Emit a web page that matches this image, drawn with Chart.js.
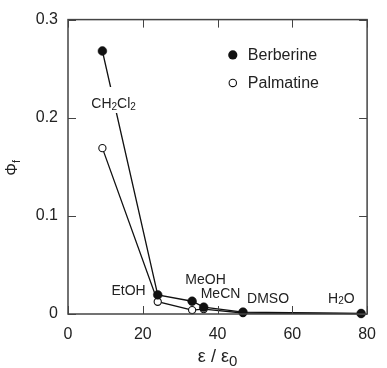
<!DOCTYPE html>
<html>
<head>
<meta charset="utf-8">
<script src="https://cdn.jsdelivr.net/npm/chart.js@4.4.1/dist/chart.umd.min.js"></script>
<style>
  html, body { margin: 0; padding: 0; background: #fff; }
  #wrap { width: 387px; height: 368px; }
</style>
</head>
<body>
<div id="wrap"><canvas id="myChart" width="387" height="368"></canvas></div>
<script>
// solvents and their dielectric constants (x axis)
const solvents = ["CH2Cl2", "EtOH", "MeOH", "MeCN", "DMSO", "H2O"];
const epsilon = [9.2, 24.0, 33.2, 36.3, 46.8, 78.4];
// fluorescence quantum yields
const berberine = [0.268, 0.0195, 0.013, 0.007, 0.002, 0.0005];
const palmatine = [0.169, 0.0125, 0.004, 0.005, 0.001, 0.0004];
const xTicks = [0, 20, 40, 60, 80];
const yTicks = [0, 0.1, 0.2, 0.3];

// where the solvent names sit, in data units
const labelX = [12.2, 16.2, 36.8, 40.8, 53.5, 73.1];
const labelY = [0.214, 0.0235, 0.035, 0.0205, 0.0156, 0.0156];

const FAMILY = '"Liberation Sans", Arial, sans-serif';
const INK = '#222';

function toPts(ys) {
  return epsilon.map((x, i) => ({x: x, y: ys[i]}));
}

// split "CH2Cl2" into normal / subscript parts
function parts(txt) {
  const out = [];
  for (const ch of txt) {
    const sub = /[0-9]/.test(ch) && out.length > 0;
    const last = out[out.length - 1];
    if (last && last.sub === sub) last.t += ch; else out.push({t: ch, sub: sub});
  }
  return out;
}
function partsWidth(ctx, ps, big, small) {
  let w = 0;
  ps.forEach(p => { ctx.font = (p.sub ? small : big) + 'px ' + FAMILY; w += ctx.measureText(p.t).width; });
  return w;
}
function drawParts(ctx, ps, x, y, big, small, drop) {
  ps.forEach(p => {
    ctx.font = (p.sub ? small : big) + 'px ' + FAMILY;
    ctx.fillText(p.t, x, p.sub ? y + drop : y);
    x += ctx.measureText(p.t).width;
  });
}

const decor = {
  id: 'decor',
  afterDraw(chart) {
    const ctx = chart.ctx;
    const a = chart.chartArea;
    const xs = chart.scales.x, ys = chart.scales.y;
    ctx.save();
    // frame
    ctx.strokeStyle = '#444';
    ctx.lineWidth = 1.5;
    ctx.strokeRect(a.left, a.top, a.right - a.left, a.bottom - a.top);
    // inward ticks on all sides
    ctx.lineWidth = 1;
    const tl = 8;
    ctx.beginPath();
    xTicks.forEach(v => {
      const px = Math.round(xs.getPixelForValue(v)) + 0.5;
      ctx.moveTo(px, a.bottom); ctx.lineTo(px, a.bottom - tl);
      ctx.moveTo(px, a.top); ctx.lineTo(px, a.top + tl);
    });
    yTicks.forEach(v => {
      const py = Math.round(ys.getPixelForValue(v)) + 0.5;
      ctx.moveTo(a.left, py); ctx.lineTo(a.left + tl, py);
      ctx.moveTo(a.right, py); ctx.lineTo(a.right - tl, py);
    });
    ctx.stroke();

    // solvent labels (white box so the line breaks around CH2Cl2)
    ctx.textBaseline = 'middle';
    ctx.textAlign = 'left';
    solvents.forEach((s, i) => {
      const ps = parts(s);
      const w = partsWidth(ctx, ps, 14, 10);
      const cx = xs.getPixelForValue(labelX[i]);
      const cy = ys.getPixelForValue(labelY[i]);
      if (i === 0) {
        ctx.fillStyle = '#fff';
        ctx.fillRect(cx - w / 2 - 1, cy - 17, w + 2, 26);
      }
      ctx.fillStyle = INK;
      drawParts(ctx, ps, cx - w / 2, cy, 14, 10, 3);
    });

    // legend
    const lx = a.left + (a.right - a.left) * 0.551;
    const ly = a.top + (a.bottom - a.top) * 0.12;
    const names = ['Berberine', 'Palmatine'];
    names.forEach((n, i) => {
      const y = ly + i * 28;
      ctx.beginPath();
      if (i === 0) {
        ctx.arc(lx, y, 4.6, 0, Math.PI * 2);
        ctx.fillStyle = '#111'; ctx.fill();
      } else {
        ctx.arc(lx, y, 3.7, 0, Math.PI * 2);
        ctx.fillStyle = '#fff'; ctx.fill();
        ctx.strokeStyle = '#111'; ctx.lineWidth = 1.1; ctx.stroke();
      }
      ctx.fillStyle = INK;
      ctx.font = '16px ' + FAMILY;
      ctx.fillText(n, lx + 15, y + 1);
    });

    // x axis title: ε / ε0
    ctx.textBaseline = 'alphabetic';
    const xt = [{t: 'ε / ε', sub: false}, {t: '0', sub: true}];
    const xw = partsWidth(ctx, xt, 18, 15);
    drawParts(ctx, xt, (a.left + a.right) / 2 - xw / 2, 362, 18, 15, 4);

    // y axis title: Φf (rotated)
    ctx.translate(17, (a.top + a.bottom) / 2 + 1);
    ctx.rotate(-Math.PI / 2);
    const yt = [{t: 'Φ', sub: false}, {t: 'f', sub: true}];
    const yw = partsWidth(ctx, yt, 16, 11);
    drawParts(ctx, yt, -yw / 2, 0, 16, 11, 3);
    ctx.restore();
  }
};

const ctx = document.getElementById("myChart").getContext("2d");
const chart = new Chart(ctx, {
  type: "scatter",
  data: {
    datasets: [{
      label: 'Berberine',
      data: toPts(berberine),
      showLine: true,
      borderColor: '#111',
      borderWidth: 1.3,
      backgroundColor: '#111',
      pointBackgroundColor: '#111',
      pointBorderColor: '#111',
      pointRadius: 4.4,
      pointBorderWidth: 0.5,
      clip: false
    }, {
      label: 'Palmatine',
      data: toPts(palmatine),
      showLine: true,
      borderColor: '#111',
      borderWidth: 1.3,
      pointBackgroundColor: '#fff',
      pointBorderColor: '#111',
      pointRadius: 3.6,
      pointBorderWidth: 1.1,
      clip: false
    }]
  },
  options: {
    responsive: false,
    animation: false,
    layout: { padding: { top: 7, right: 11, left: 0, bottom: 0 } },
    plugins: { legend: { display: false }, tooltip: { enabled: false } },
    scales: {
      x: {
        type: 'linear', min: 0, max: 80,
        afterFit(s) { s.height = 54; },
        afterBuildTicks(s) { s.ticks = xTicks.map(v => ({value: v})); },
        grid: { display: false, drawTicks: false }, border: { display: false },
        ticks: { color: INK, padding: 11, font: { family: FAMILY, size: 16 } }
      },
      y: {
        type: 'linear', min: 0, max: 0.3,
        afterFit(s) { s.width = 68; },
        afterBuildTicks(s) { s.ticks = yTicks.map(v => ({value: v})); },
        grid: { display: false, drawTicks: false }, border: { display: false },
        ticks: {
          color: INK, padding: 10,
          font: { family: FAMILY, size: 16 },
          callback: v => v === 0 ? '0' : v.toFixed(1)
        }
      }
    }
  },
  plugins: [decor]
});
</script>
</body>
</html>
